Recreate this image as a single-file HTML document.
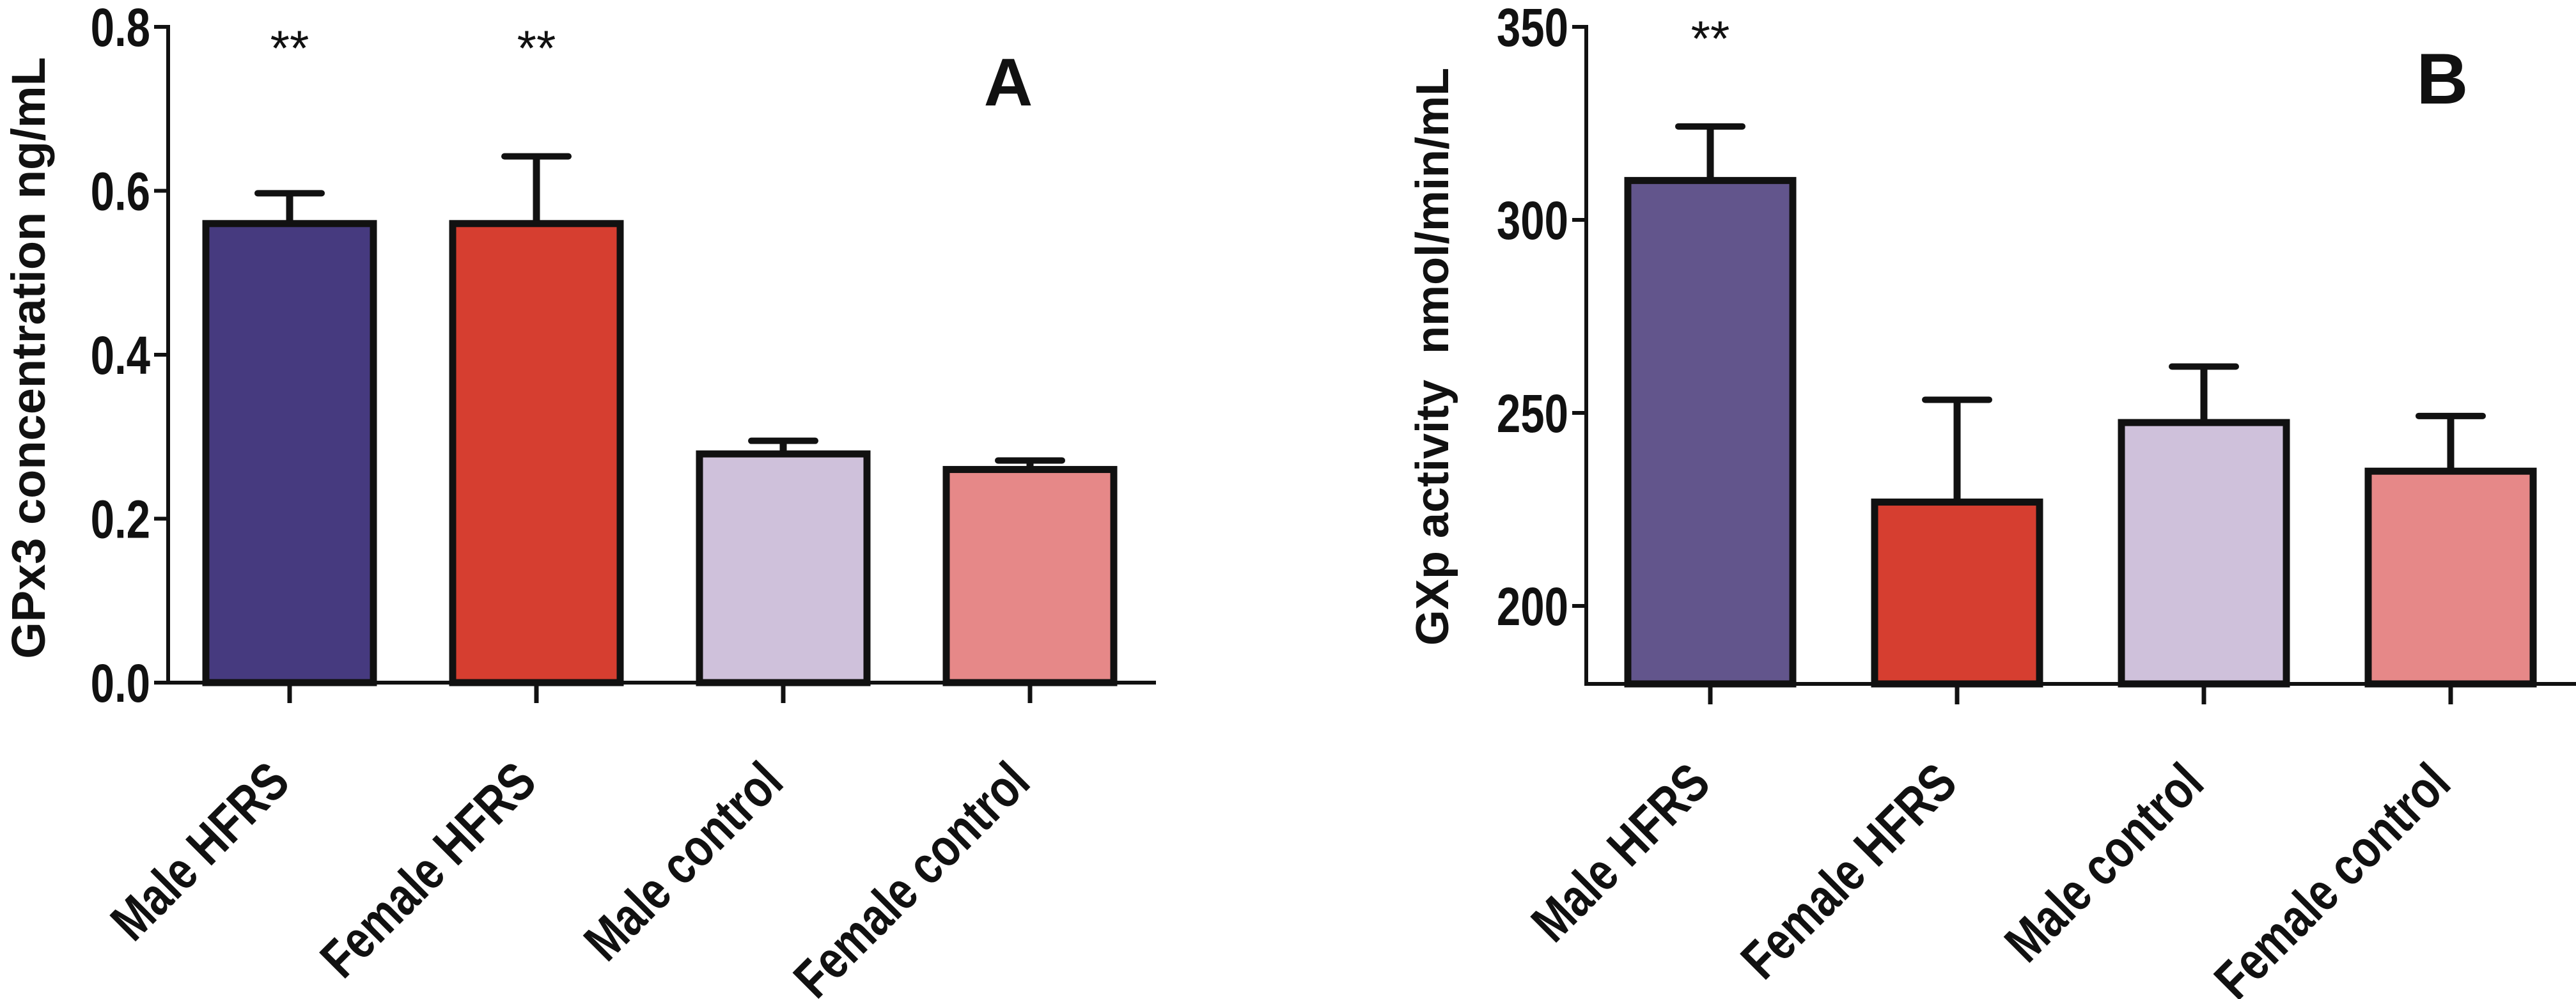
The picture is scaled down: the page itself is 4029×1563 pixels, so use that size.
<!DOCTYPE html>
<html><head><meta charset="utf-8"><style>
html,body{margin:0;padding:0;background:#fff;overflow:hidden;}
svg{display:block;}
text{font-family:"Liberation Sans",sans-serif;font-weight:bold;fill:#111;}
</style></head><body>
<svg id="chart" width="4029" height="1563" viewBox="0 0 4029 1563" xmlns="http://www.w3.org/2000/svg"></svg>
<script>
const categories = ["Male HFRS","Female HFRS","Male control","Female control"];
const valuesA = [0.56, 0.56, 0.279, 0.26];
const errorsA = [0.597, 0.642, 0.295, 0.271];
const ticksA = [0.0, 0.2, 0.4, 0.6, 0.8];
const tickLabelsA = ["0.0","0.2","0.4","0.6","0.8"];
const sigA = ["**","**","",""];
const valuesB = [310.2, 226.9, 247.5, 234.9];
const errorsB = [324.2, 253.4, 262.0, 249.2];
const ticksB = [200, 250, 300, 350];
const tickLabelsB = ["200","250","300","350"];
const sigB = ["**","","",""];
const colorsA = ["#463a7f","#d63e30","#cfc1db","#e68888"];
const colorsB = ["#62558c","#d63e30","#cfc1db","#e68888"];
const NS = "http://www.w3.org/2000/svg";
const svg = document.getElementById('chart');
function mk(tag, attrs, parent, txt){const e=document.createElementNS(NS,tag);for(const k in attrs)e.setAttribute(k,attrs[k]);if(txt!==undefined)e.textContent=txt;(parent||svg).appendChild(e);return e;}

function panel(p){
  const g = mk('g',{});
  
  
  const y = v => p.y0 - (v - p.vmin) / (p.vmax - p.vmin) * (p.y0 - p.y1);
  const xc = i => p.x0c + i * p.step;
  p.values.forEach((v,i)=>{
    const top = y(v), et = y(p.errors[i]);
    const eb = mk('line',{x1:xc(i),x2:xc(i),y1:top,y2:et,stroke:'#111','stroke-width':11},g);
    
    
    const cap = mk('line',{x1:xc(i)-50,x2:xc(i)+50,y1:et,y2:et,stroke:'#111','stroke-width':10,'stroke-linecap':'round'},g);
    
    
    const r = mk('rect',{x:xc(i)-p.bw/2,y:top,width:p.bw,height:p.axisY-top,fill:p.colors[i],stroke:'#111','stroke-width':11},g);
    
    
    if(p.sig[i]){
      const s = mk('text',{x:xc(i),y:p.sigY,'text-anchor':'middle','font-size':78,style:'font-weight:normal'},g,p.sig[i]);
      
      
    }
    const tk = mk('line',{x1:xc(i),x2:xc(i),y1:p.axisY,y2:p.axisY+32,stroke:'#111','stroke-width':7},g);
    
    
    const lx = xc(i)+4, ly = p.axisY+160;
    const lab = mk('text',{x:0,y:0,'text-anchor':'end','font-size':84,transform:`translate(${lx} ${ly}) rotate(-45) scale(0.8 1)`},g,categories[i]);
    
    
  });
  const ya = mk('line',{x1:p.ax,x2:p.ax,y1:y(p.vmax)-3,y2:p.axisY+3,stroke:'#111','stroke-width':6},g);
  
  
  const xa = mk('line',{x1:p.ax-3,x2:p.axEnd,y1:p.axisY,y2:p.axisY,stroke:'#111','stroke-width':6},g);
  
  
  p.ticks.forEach((t,i)=>{
    const tl = mk('line',{x1:p.ax-22,x2:p.ax,y1:y(t),y2:y(t),stroke:'#111','stroke-width':6},g);
    
    
    const tx = mk('text',{x:0,y:0,'text-anchor':'end','font-size':84,transform:`translate(${p.ax-28} ${y(t)+30}) scale(0.8 1)`},g,p.tickLabels[i]);
    
    
  });
  const tt = mk('text',{x:p.titleX,y:p.titleY,'text-anchor':'middle','font-size':p.titleSize,transform:`rotate(-90 ${p.titleX} ${p.titleY})`},g,p.title);
  
  
  const pl = mk('text',{x:p.letterX,y:p.letterY,'text-anchor':'middle','font-size':p.letterSize},g,p.letter);
  
  
}

panel({name:'panel-a',vmin:0,vmax:0.8,y0:1068,y1:42,axisY:1068,ax:263,axEnd:1808,x0c:453,step:386,bw:262,
  values:valuesA,errors:errorsA,ticks:ticksA,tickLabels:tickLabelsA,sig:sigA,colors:colorsA,sigY:102,
  title:'GPx3 concentration ng/mL',titleX:70,titleY:560,titleSize:74,letter:'A',letterX:1577,letterY:165,letterSize:106});
panel({name:'panel-b',vmin:200,vmax:350,y0:948,y1:42,axisY:1070,ax:2481,axEnd:4029,x0c:2675,step:386,bw:258,
  values:valuesB,errors:errorsB,ticks:ticksB,tickLabels:tickLabelsB,sig:sigB,colors:colorsB,sigY:87,
  title:'GXp activity\u00a0 nmol/min/mL',titleX:2265,titleY:558,titleSize:72,letter:'B',letterX:3820,letterY:162,letterSize:112});
</script>
</body></html>
